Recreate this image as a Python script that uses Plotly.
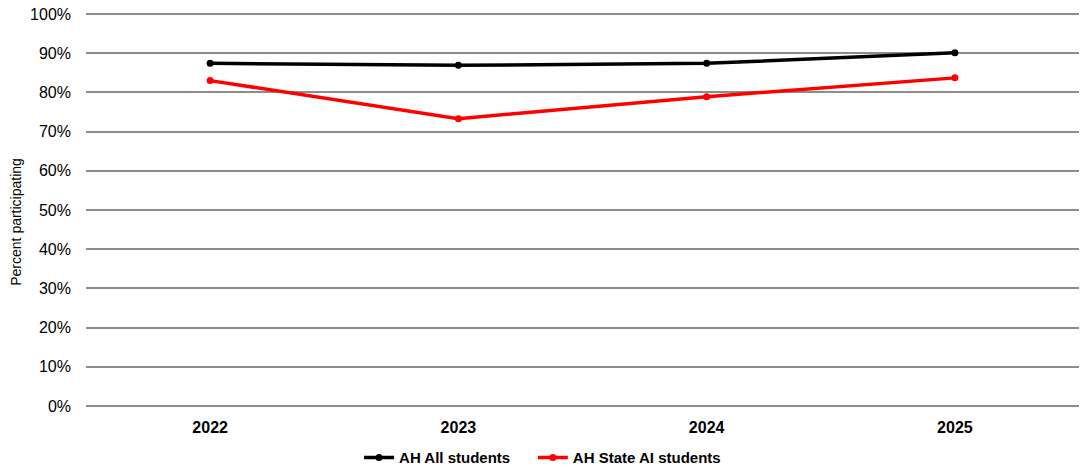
import plotly.graph_objects as go

years = ["2022", "2023", "2024", "2025"]
all_students = [87.4, 86.9, 87.4, 90.1]
state_ai_students = [83.0, 73.3, 78.9, 83.7]
y_ticks = [0, 10, 20, 30, 40, 50, 60, 70, 80, 90, 100]
y_tick_labels = [f"{v}%" for v in y_ticks]

FONT = "Liberation Sans, Arial, sans-serif"

fig = go.Figure()
fig.add_trace(go.Scatter(
    x=years, y=all_students, name="AH All students",
    mode="lines+markers",
    line=dict(color="#000000", width=3.5),
    marker=dict(color="#000000", size=7),
    legend="legend",
))
fig.add_trace(go.Scatter(
    x=years, y=state_ai_students, name="AH State AI students",
    mode="lines+markers",
    line=dict(color="#ff0000", width=3.5),
    marker=dict(color="#ff0000", size=7),
    legend="legend2",
))

legend_style = dict(
    orientation="h", xanchor="left",
    yref="container", y=0.024, yanchor="middle",
    font=dict(family=FONT, size=15, color="#000000", weight="bold"),
    itemwidth=30, bgcolor="rgba(0,0,0,0)",
)

fig.update_layout(
    width=1087, height=469,
    margin=dict(l=86, r=8, t=12, b=61, autoexpand=False),
    paper_bgcolor="white", plot_bgcolor="white",
    font=dict(family=FONT, color="#000000", size=15),
    showlegend=True,
    legend=dict(x=0.275, **legend_style),
    legend2=dict(x=0.450, **legend_style),
    xaxis=dict(
        type="category", range=[-0.5, 3.5],
        showgrid=False, zeroline=False, showline=False,
        ticks="", tickfont=dict(family=FONT, size=16, weight="bold"),
        ticklabelstandoff=8,
    ),
    yaxis=dict(
        range=[-0.5, 100.5], tickvals=y_ticks, ticktext=y_tick_labels,
        showgrid=True, gridcolor="#8c8c8c", gridwidth=2,
        zeroline=False, showline=False, ticks="",
        tickfont=dict(family=FONT, size=16),
        ticklabelstandoff=14,
    ),
    annotations=[dict(
        text="Percent participating", textangle=-90,
        xref="paper", x=-0.0705, xanchor="center",
        yref="y", y=47, yanchor="middle",
        showarrow=False, font=dict(family=FONT, size=14, color="#000000"),
    )],
)

fig.write_html("out.html")
